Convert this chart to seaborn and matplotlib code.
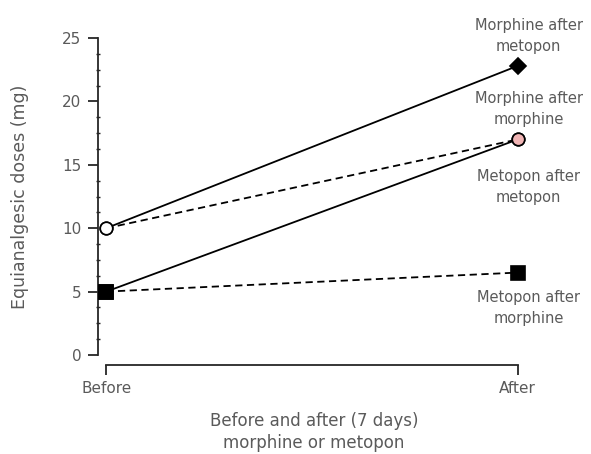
import pandas as pd
import matplotlib.pyplot as plt
import seaborn as sns
from matplotlib.ticker import MultipleLocator

# Values
groups = ['Morphine after metopon', 'Morphine after morphine',
          'Metopon after metopon', 'Metopon after morphine']
label_lines = ['Morphine after\nmetopon', 'Morphine after\nmorphine',
               'Metopon after\nmetopon', 'Metopon after\nmorphine']
times = ['Before', 'After']
before_dose = [10, 10, 5, 5]
after_dose = [22.8, 17, 17, 6.5]

# Styling per group
dash_styles = ['', (4, 2.5), '', (4, 2.5)]
before_marker = ['o', 'o', 's', 's']
before_face = ['white', 'white', 'black', 'black']
after_marker = ['D', 'o', 'o', 's']
after_face = ['black', '#f0b4b4', '#f0b4b4', 'black']
marker_size = {'o': 9, 's': 9.5, 'D': 8}
label_offset = [30, 30, -48, -35]  # pixels, vertical offset of the label

df = pd.DataFrame({
    'group': groups * 2,
    'time': ['Before'] * 4 + ['After'] * 4,
    'dose': before_dose + after_dose,
})
df['x'] = df['time'].map({t: i for i, t in enumerate(times)})

sns.set_style('ticks')
plt.rcParams['font.family'] = ['DejaVu Sans']
text_color = '#5a5a5a'

fig = plt.figure(figsize=(5.91, 4.54), dpi=100)
ax = fig.add_axes([98 / 591, 99 / 454, 432 / 591, 317 / 454])

sns.lineplot(data=df, x='x', y='dose', hue='group', style='group',
             palette=['black'] * 4, dashes=dict(zip(groups, dash_styles)),
             hue_order=groups, style_order=groups,
             linewidth=1.3, legend=False, sort=False, ax=ax)

# markers on top of the lines
for i, g in enumerate(groups):
    ax.plot(0, before_dose[i], marker=before_marker[i], ms=marker_size[before_marker[i]],
            mfc=before_face[i], mec='black', mew=1.2, ls='none', zorder=5)
    ax.plot(1, after_dose[i], marker=after_marker[i], ms=marker_size[after_marker[i]],
            mfc=after_face[i], mec='black', mew=1.2, ls='none', zorder=5)
    ax.annotate(label_lines[i], xy=(1, after_dose[i]), xytext=(11, label_offset[i]),
                textcoords='offset pixels', ha='center', va='center',
                fontsize=10.5, color=text_color, linespacing=1.5,
                annotation_clip=False)

ax.set_xlim(-0.02, 1.03)
ax.set_ylim(0, 25)
ax.set_xticks([0, 1])
ax.set_xticklabels(times)
ax.yaxis.set_major_locator(MultipleLocator(5))
ax.yaxis.set_minor_locator(MultipleLocator(1.25))

sns.despine(ax=ax)
ax.spines['left'].set_bounds(0, 25)
ax.spines['bottom'].set_bounds(0, 1)
ax.spines['bottom'].set_position(('outward', 7))
for s in ['left', 'bottom']:
    ax.spines[s].set_linewidth(1.3)

ax.tick_params(axis='both', which='major', length=7, width=1.3,
               labelsize=11, labelcolor=text_color, pad=5)
ax.tick_params(axis='y', which='minor', length=2.5, width=1.0, direction='inout')

ax.set_ylabel('Equianalgesic doses (mg)', fontsize=12.5, color=text_color, labelpad=24)
ax.set_xlabel('Before and after (7 days)\nmorphine or metopon', fontsize=12,
              color=text_color, labelpad=11, linespacing=1.3)

fig.savefig('out.png', dpi=100)
